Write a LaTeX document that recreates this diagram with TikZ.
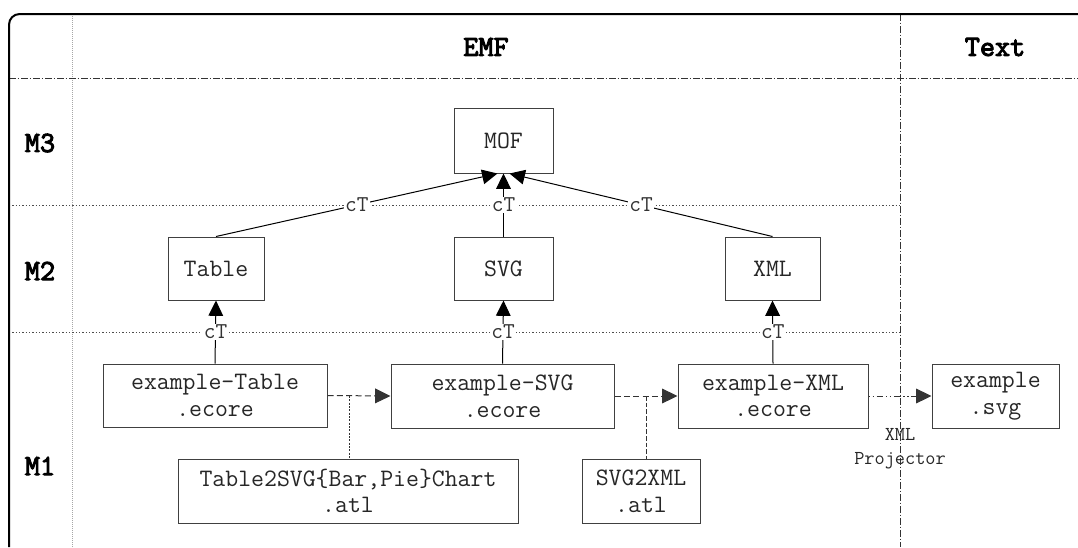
\documentclass[tikz,border=0pt]{standalone}
\usepackage{fontspec}
\setmonofont{Latin Modern Mono}
\newfontfamily\hdrfont{Latin Modern Mono}[FakeBold=3.5]
\usetikzlibrary{arrows.meta}
\begin{document}
\begin{tikzpicture}[x=0.75pt,y=-0.75pt,
  box/.style={draw=black!75, line width=0.75pt, fill=white, inner sep=0pt, align=center,
    font=\ttfamily\fontsize{18.8}{20}\selectfont, text=black!85},
  hdr/.style={font=\hdrfont\fontsize{22}{24}\selectfont},
  ctlabel/.style={fill=white, inner sep=1pt, font=\ttfamily\fontsize{17}{18}\selectfont, text=black!80},
  tip/.style={-{Triangle[length=11.5pt,width=11pt]}},
  inst/.style={line width=0.75pt, draw=black, tip},
  dashdotline/.style={line width=0.75pt, draw=black!80, dash pattern=on 5pt off 1.5pt on 1pt off 1.5pt},
  dotline/.style={line width=0.75pt, draw=black!70, dash pattern=on 1pt off 1.5pt},
  graydot/.style={line width=0.75pt, draw=black!35, dash pattern=on 0.75pt off 0.75pt},
  trans/.style={line width=0.75pt, draw=black!80, dash pattern=on 4.5pt off 2.5pt, tip},
  projline/.style={line width=0.75pt, draw=black!80, dash pattern=on 1pt off 2pt on 1pt off 2pt on 5pt off 2pt, tip},
  small/.style={font=\ttfamily\fontsize{14.8}{18}\selectfont, text=black!85, align=center}
]
\useasboundingbox (0,0) rectangle (1078,547);
% grid
\draw[graydot] (72,14) -- (72,547);
\draw[dashdotline] (9,78) -- (1078,78);
\draw[dashdotline] (900,14) -- (900,547);
\draw[dotline] (9,205) -- (900,205);
\draw[dotline] (9,332) -- (900,332);
\draw[line width=1.5pt, rounded corners=8pt] (9,547) -- (9,14) -- (1078,14);
% headers
\node[hdr] (hemf) at (486,47) {EMF};
\node[hdr] (htext) at (995,47) {Text};
\node[hdr] (hm3) at (40,143) {M3};
\node[hdr] (hm2) at (40,271) {M2};
\node[hdr] (hm1) at (40,466) {M1};
% boxes
\node[box, minimum width=74.25pt, minimum height=48.75pt] (mof) at (503.5,140.5) {MOF};
\node[box, minimum width=72pt, minimum height=47.25pt] (table) at (216,268.5) {Table};
\node[box, minimum width=74.25pt, minimum height=47.25pt] (svg) at (503.5,268.5) {SVG};
\node[box, minimum width=71.25pt, minimum height=47.25pt] (xml) at (772.5,268.5) {XML};
\node[box, minimum width=168pt, minimum height=47.25pt] (extable) at (215,395.5) {example-Table\\.ecore};
\node[box, minimum width=167.25pt, minimum height=48pt] (exsvg) at (502.5,396) {example-SVG\\.ecore};
\node[box, minimum width=142.5pt, minimum height=48pt] (exxml) at (773,396) {example-XML\\.ecore};
\node[box, minimum width=95.25pt, minimum height=48pt] (exout) at (995.5,396) {example\\.svg};
\node[box, minimum width=255pt, minimum height=48pt] (t2s) at (348,491) {Table2SVG\{Bar,Pie\}Chart\\.atl};
\node[box, minimum width=88.5pt, minimum height=48pt] (s2x) at (641,491) {SVG2XML\\.atl};
% conformsTo edges
\draw[inst] (table.north) -- node[ctlabel] {cT} ([xshift=-4.5pt]mof.south);
\draw[inst] (svg.north) -- node[ctlabel] {cT} (mof.south);
\draw[inst] (xml.north) -- node[ctlabel] {cT} ([xshift=4.5pt]mof.south);
\draw[inst] (extable.north) -- node[ctlabel] {cT} (table.south);
\draw[inst] (exsvg.north) -- node[ctlabel] {cT} (svg.south);
\draw[inst] (exxml.north) -- node[ctlabel] {cT} (xml.south);
% transformations
\draw[trans] (extable.east) -- (exsvg.west);
\coordinate (m1) at (349,396);
\draw[line width=0.75pt, draw=black!80, dash pattern=on 1.5pt off 1pt] (m1) -- (m1 |- t2s.north);
\draw[trans] (exsvg.east) -- (exxml.west);
\coordinate (m2) at (646,396);
\draw[line width=0.75pt, draw=black!80, dash pattern=on 3.5pt off 1.5pt] (m2) -- (m2 |- s2x.north);
\draw[projline] (exxml.east) -- (exout.west);
\node[small] (proj) at (900,449) {XML\\Projector};
\end{tikzpicture}
\end{document}
